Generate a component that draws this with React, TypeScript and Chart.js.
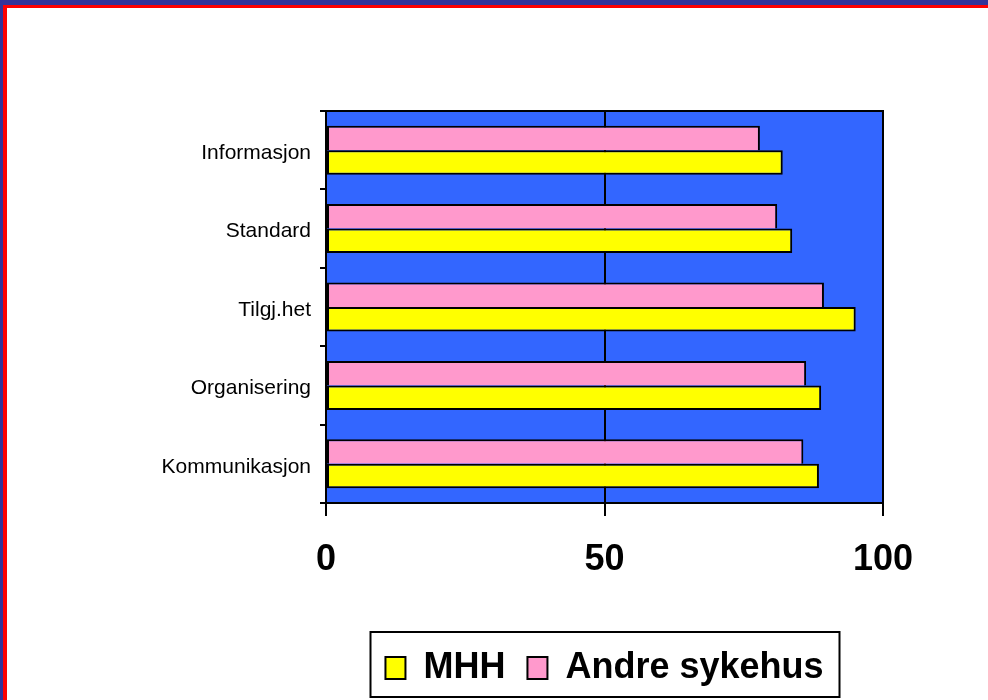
import React, { useEffect, useRef } from "react";
import { Chart, registerables } from "chart.js";

Chart.register(...registerables);

const categories = ["Informasjon", "Standard", "Tilgj.het", "Organisering", "Kommunikasjon"];
const andreSykehus = [77.9, 81.0, 89.4, 86.2, 85.7];
const mhh = [82.0, 83.7, 95.1, 88.9, 88.5];
const xTicks = [0, 50, 100];

const FONT = "'Liberation Sans', Arial, Helvetica, sans-serif";

const plotDecor = {
  id: "plotDecor",
  beforeDraw(chart: any) {
    const { ctx, chartArea } = chart;
    ctx.save();
    ctx.fillStyle = "#3366FF";
    ctx.fillRect(chartArea.left, chartArea.top, chartArea.right - chartArea.left, chartArea.bottom - chartArea.top);
    ctx.restore();
  },
  afterDatasetsDraw(chart: any) {
    const { ctx, chartArea } = chart;
    ctx.save();
    ctx.strokeStyle = "#000";
    ctx.lineWidth = 2;
    ctx.strokeRect(chartArea.left, chartArea.top, chartArea.right - chartArea.left, chartArea.bottom - chartArea.top);
    ctx.restore();
  },
  afterDraw(chart: any) {
    const lg = chart.legend;
    if (!lg || !lg.legendHitBoxes || !lg.legendHitBoxes.length) return;
    const hb = lg.legendHitBoxes;
    const left = Math.min(...hb.map((h: any) => h.left)) - 15;
    const right = Math.max(...hb.map((h: any) => h.left + h.width)) + 16;
    const top = Math.min(...hb.map((h: any) => h.top));
    const bottom = Math.max(...hb.map((h: any) => h.top + h.height));
    const cy = (top + bottom) / 2;
    const { ctx } = chart;
    ctx.save();
    ctx.strokeStyle = "#000";
    ctx.lineWidth = 2;
    ctx.strokeRect(Math.round(left) + 0.5, Math.round(cy - 36), Math.round(right - left), 65);
    ctx.restore();
  },
};

export default function App() {
  const ref = useRef<HTMLCanvasElement | null>(null);

  useEffect(() => {
    if (!ref.current) return;
    const chart = new Chart(ref.current, {
      type: "bar",
      data: {
        labels: categories,
        datasets: [
          {
            label: "Andre sykehus",
            data: andreSykehus,
            backgroundColor: "#FF99CC",
            borderColor: "#000",
            borderWidth: { top: 2, right: 2, bottom: 0, left: 2 },
            borderSkipped: false,
          },
          {
            label: "MHH",
            data: mhh,
            backgroundColor: "#FFFF00",
            borderColor: "#000",
            borderWidth: 2,
            borderSkipped: false,
          },
        ],
      },
      options: {
        indexAxis: "y",
        responsive: false,
        animation: false,
        devicePixelRatio: 1,
        layout: { padding: { top: 111, right: 105, bottom: 4, left: 0 } },
        datasets: {
          bar: { categoryPercentage: 0.625, barPercentage: 1.0 },
        },
        scales: {
          x: {
            min: 0,
            max: 100,
            afterBuildTicks(scale: any) {
              scale.ticks = xTicks.map((v) => ({ value: v }));
            },
            afterFit(scale: any) {
              scale.height = 125;
            },
            grid: {
              color: "#000",
              lineWidth: 2,
              tickLength: 13,
              drawOnChartArea: true,
            },
            border: { display: true, color: "#000", width: 2 },
            ticks: {
              color: "#000",
              padding: 22,
              font: { family: FONT, size: 36, weight: "bold" },
            },
          },
          y: {
            afterFit(scale: any) {
              scale.width = 326;
            },
            grid: {
              color: "#000",
              lineWidth: 2,
              tickLength: 6,
              drawOnChartArea: false,
              offset: true,
            },
            border: { display: true, color: "#000", width: 2 },
            ticks: {
              color: "#000",
              padding: 9,
              labelOffset: 3,
              font: { family: FONT, size: 21 },
            },
          },
        },
        plugins: {
          tooltip: { enabled: false },
          legend: {
            position: "bottom",
            fullSize: false,
            reverse: true,
            labels: {
              color: "#000",
              boxWidth: 20,
              boxHeight: 22,
              padding: 22,
              font: { family: FONT, size: 36, weight: "bold" },
              generateLabels(c: any) {
                const items = Chart.defaults.plugins.legend.labels.generateLabels(c);
                return items.map((it: any) => ({ ...it, lineWidth: 2, strokeStyle: "#000" }));
              },
            },
          },
        },
      },
      plugins: [plotDecor],
    } as any);
    return () => chart.destroy();
  }, []);

  return (
    <div style={{ position: "fixed", left: 0, top: 0, width: 988, height: 700, background: "#333399", overflow: "hidden" }}>
      <div
        style={{
          position: "absolute",
          left: 3,
          top: 5,
          right: -10,
          bottom: -10,
          background: "#fff",
          borderLeft: "4px solid #FF0000",
          borderTop: "3px solid #FF0000",
        }}
      />
      <canvas ref={ref} width={988} height={700} style={{ position: "absolute", left: 0, top: 0, width: 988, height: 700 }} />
    </div>
  );
}
